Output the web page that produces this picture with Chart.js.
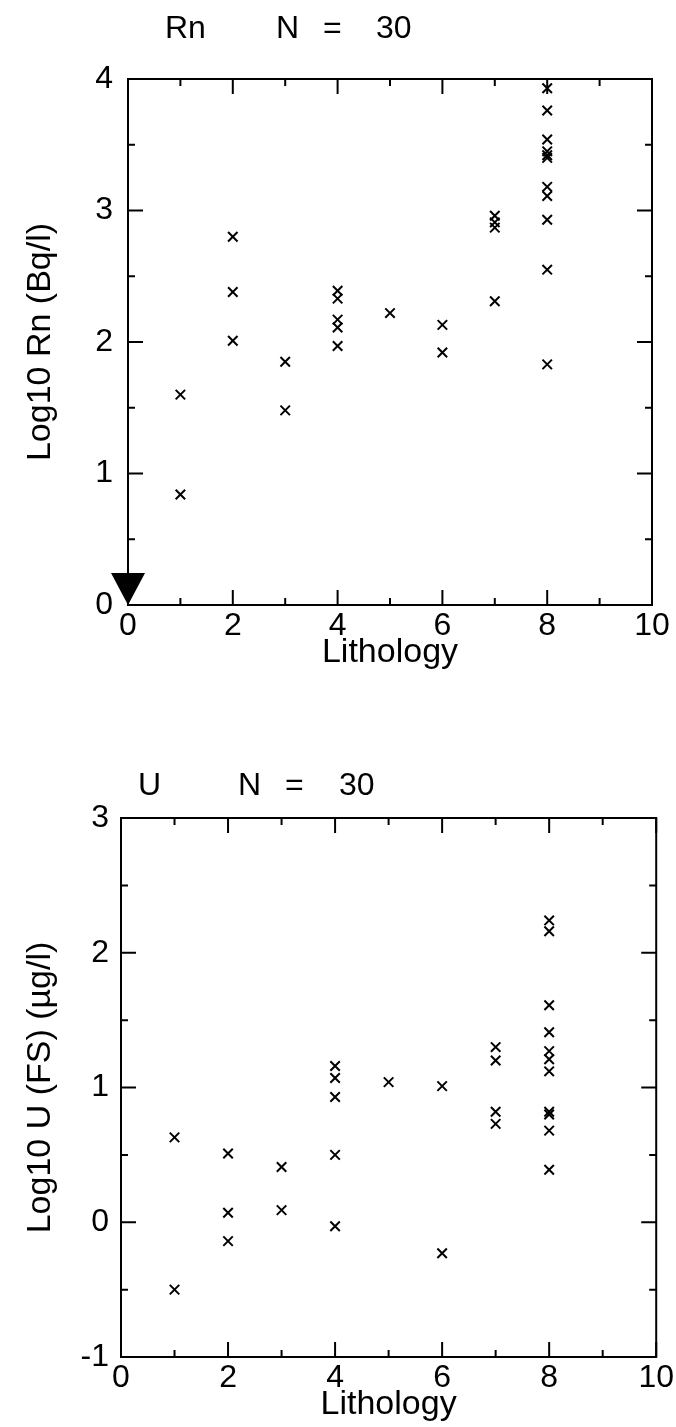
<!DOCTYPE html>
<html>
<head>
<meta charset="utf-8">
<script src="https://cdn.jsdelivr.net/npm/chart.js@4.4.1/dist/chart.umd.min.js"></script>
<style>
  html, body { margin: 0; padding: 0; background: #fff; }
  canvas { display: block; }
</style>
</head>
<body>
<canvas id="rn-chart" width="676" height="700"></canvas>
<canvas id="u-chart" width="676" height="727"></canvas>
<script>
// Rn panel
const rnLith = [1, 1, 2, 2, 2, 3, 3, 4, 4, 4, 4, 4, 5, 6, 6, 7, 7, 7, 7, 8, 8, 8, 8, 8, 8, 8, 8, 8, 8, 8];
const rnLog = [1.60, 0.84, 2.80, 2.38, 2.01, 1.85, 1.48, 2.39, 2.33, 2.17, 2.11, 1.97, 2.22, 2.13, 1.92,
    2.96, 2.91, 2.87, 2.31, 3.93, 3.76, 3.54, 3.45, 3.42, 3.40, 3.18, 3.11, 2.93, 2.55, 1.83];
const rnBelowLith = [0];
const rnBelowLog = [0];
const rnYTicks = [0, 1, 2, 3, 4];

// U panel
const uLith = [1, 1, 2, 2, 2, 3, 3, 4, 4, 4, 4, 4, 5, 6, 6, 7, 7, 7, 7, 8, 8, 8, 8, 8, 8, 8, 8, 8, 8, 8];
const uLog = [0.63, -0.50, 0.51, 0.07, -0.14, 0.41, 0.09, 1.16, 1.07, 0.93, 0.50, -0.03, 1.04, 1.01, -0.23,
    1.30, 1.20, 0.82, 0.73, 2.24, 2.16, 1.61, 1.41, 1.27, 1.21, 1.12, 0.82, 0.80, 0.68, 0.39];
const uYTicks = [-1, 0, 1, 2, 3];

const lithTicks = [0, 2, 4, 6, 8, 10];

const FONT = "'Liberation Sans', Arial, sans-serif";
Chart.defaults.font.family = FONT;
Chart.defaults.color = '#000';

const toPoints = (xs, ys) => xs.map((x, i) => ({x: x, y: ys[i]}));
const setTicks = list => scale => { scale.ticks = list.map(v => ({value: v})); };

// filled triangle, apex at the centre of the image so it sits on the point
const downTri = document.createElement('canvas');
downTri.width = 34;
downTri.height = 64;
const tctx = downTri.getContext('2d');
tctx.fillStyle = '#000';
tctx.beginPath();
tctx.moveTo(0, 0);
tctx.lineTo(34, 0);
tctx.lineTo(17, 32);
tctx.closePath();
tctx.fill();

// box round the plot with inward ticks on all four sides
const frameTicks = {
    id: 'frameTicks',
    afterDraw(chart) {
        const {ctx, chartArea: a, scales: {x, y}} = chart;
        const major = 15, minor = 7;
        ctx.save();
        ctx.strokeStyle = '#000';
        ctx.lineWidth = 2;
        ctx.strokeRect(a.left, a.top, a.right - a.left, a.bottom - a.top);
        ctx.beginPath();
        for (let i = 0; i < x.ticks.length; i++) {
            const v = x.ticks[i].value;
            const px = x.getPixelForValue(v);
            ctx.moveTo(px, a.bottom); ctx.lineTo(px, a.bottom - major);
            ctx.moveTo(px, a.top); ctx.lineTo(px, a.top + major);
            if (i < x.ticks.length - 1) {
                const mx = x.getPixelForValue((v + x.ticks[i + 1].value) / 2);
                ctx.moveTo(mx, a.bottom); ctx.lineTo(mx, a.bottom - minor);
                ctx.moveTo(mx, a.top); ctx.lineTo(mx, a.top + minor);
            }
        }
        for (let i = 0; i < y.ticks.length; i++) {
            const v = y.ticks[i].value;
            const py = y.getPixelForValue(v);
            ctx.moveTo(a.left, py); ctx.lineTo(a.left + major, py);
            ctx.moveTo(a.right, py); ctx.lineTo(a.right - major, py);
            if (i < y.ticks.length - 1) {
                const my = y.getPixelForValue((v + y.ticks[i + 1].value) / 2);
                ctx.moveTo(a.left, my); ctx.lineTo(a.left + minor, my);
                ctx.moveTo(a.right, my); ctx.lineTo(a.right - minor, my);
            }
        }
        ctx.stroke();
        ctx.restore();
    }
};

// "Rn   N = 30" style heading above the box
const panelTitle = {
    id: 'panelTitle',
    afterDraw(chart, args, opts) {
        const {ctx, chartArea: a} = chart;
        ctx.save();
        ctx.fillStyle = '#000';
        ctx.font = '32px ' + FONT;
        ctx.textAlign = 'left';
        ctx.textBaseline = 'alphabetic';
        opts.parts.forEach((p, i) => ctx.fillText(p, a.left + opts.offsets[i], a.top - opts.lift));
        ctx.restore();
    }
};

function panel(id, o) {
    const datasets = [{
        data: toPoints(o.lith, o.log),
        pointStyle: 'crossRot',
        pointRadius: 6.7,
        pointBorderWidth: 2,
        borderColor: '#000',
        backgroundColor: '#000',
        clip: false
    }];
    if (o.below) {
        datasets.push({
            data: o.below,
            pointStyle: downTri,
            clip: false
        });
    }
    return new Chart(document.getElementById(id), {
        type: 'scatter',
        data: {datasets: datasets},
        plugins: [frameTicks, panelTitle],
        options: {
            responsive: false,
            animation: false,
            layout: {autoPadding: false, padding: o.padding},
            scales: {
                x: {
                    type: 'linear',
                    min: 0,
                    max: 10,
                    afterBuildTicks: setTicks(lithTicks),
                    afterFit: s => { s.height = o.xHeight; },
                    grid: {display: false, drawTicks: false},
                    border: {display: false},
                    ticks: {font: {size: 32}, padding: 2, maxRotation: 0, autoSkip: false},
                    title: {display: true, text: 'Lithology', font: {size: 34}, padding: {top: 0, bottom: o.xTitlePad}}
                },
                y: {
                    type: 'linear',
                    min: o.yTicks[0],
                    max: o.yTicks[o.yTicks.length - 1],
                    afterBuildTicks: setTicks(o.yTicks),
                    afterFit: s => { s.width = o.yWidth; },
                    grid: {display: false, drawTicks: false},
                    border: {display: false},
                    ticks: {font: {size: 32}, padding: o.yTickPad, autoSkip: false},
                    title: {display: true, text: o.yTitle, font: {size: 34}, padding: {top: 20, bottom: 0}}
                }
            },
            plugins: {
                legend: {display: false},
                tooltip: {enabled: false},
                panelTitle: {parts: o.titleParts, offsets: o.titleOffsets, lift: o.titleLift}
            }
        }
    });
}

panel('rn-chart', {
    lith: rnLith,
    log: rnLog,
    below: toPoints(rnBelowLith, rnBelowLog),
    yTicks: rnYTicks,
    yTitle: 'Log10 Rn (Bq/l)',
    padding: {top: 79, right: 24, bottom: 0, left: 0},
    xHeight: 95,
    yWidth: 128,
    xTitlePad: 27,
    yTickPad: 15,
    titleParts: ['Rn', 'N', '=', '30'],
    titleOffsets: [37, 148, 195, 248],
    titleLift: 41
});

panel('u-chart', {
    lith: uLith,
    log: uLog,
    below: null,
    yTicks: uYTicks,
    yTitle: 'Log10 U (FS) (µg/l)',
    padding: {top: 118, right: 18, bottom: 0, left: 0},
    xHeight: 70,
    yWidth: 121,
    xTitlePad: 2,
    yTickPad: 12,
    titleParts: ['U', 'N', '=', '30'],
    titleOffsets: [17, 117, 164, 218],
    titleLift: 23
});
</script>
</body>
</html>
